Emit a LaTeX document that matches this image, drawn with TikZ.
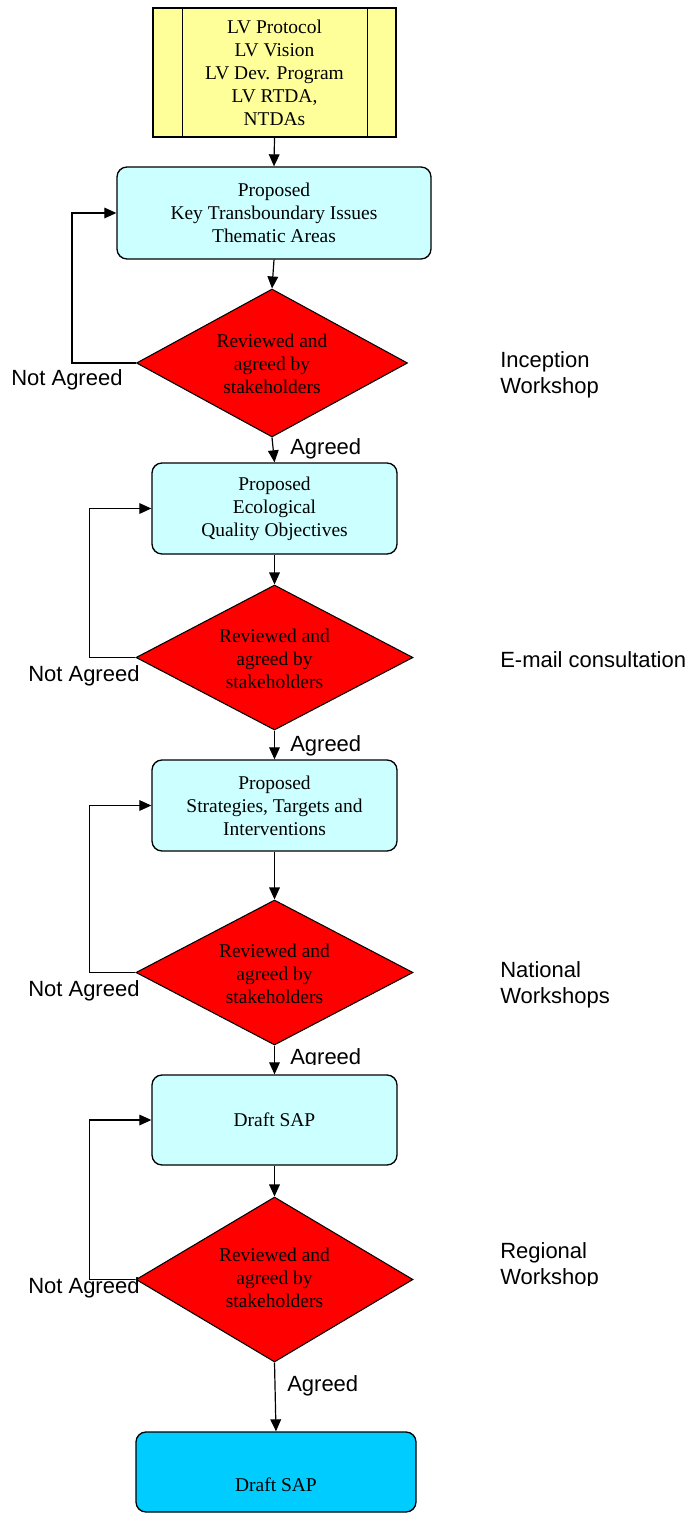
\documentclass[tikz,border=0pt]{standalone}
\usepackage{fontspec}
\setmainfont{Liberation Serif}
\newfontfamily\arialf{Liberation Sans}
\usetikzlibrary{shapes.geometric,arrows.meta}
\definecolor{lcyan}{HTML}{CCFFFF}
\definecolor{lyellow}{HTML}{FFFF99}
\definecolor{dcyan}{HTML}{00CCFF}
\tikzset{
  arr/.style={line width=0.9pt,-{Triangle[length=9pt,width=8pt]}},
  serif/.style={font=\fontsize{14.6}{17.25}\selectfont},
  proc/.style={draw,line width=1pt,rounded corners=7.5pt,fill=lcyan,align=center,serif,inner sep=0pt},
  dec/.style={draw,line width=0.8pt,diamond,aspect=1.85,fill=red,align=center,serif,inner sep=0pt},
  lab/.style={font=\arialf\fontsize{16.5}{19.5}\selectfont,align=left,inner sep=0pt,anchor=west}
}
\newcommand{\revtxt}[1]{\vbox{\kern#1\hbox{\begin{tabular}{@{}c@{}}Reviewed and\\agreed by\\stakeholders\end{tabular}}}}
\begin{document}
\begin{tikzpicture}[x=0.75pt,y=-0.75pt]
\useasboundingbox (0,0) rectangle (693,1515);
% top yellow box
\node[draw,line width=1pt,fill=lyellow,align=center,serif,inner sep=0pt,
      minimum width=182.25pt,minimum height=96.75pt] (yb) at (274.5,72.5)
  {LV Protocol\\LV Vision\\LV Dev. Program\\LV RTDA,\\NTDAs};
\draw[line width=1pt] ([xshift=22.5pt]yb.north west) -- ([xshift=22.5pt]yb.south west);
\draw[line width=1pt] ([xshift=-21.75pt]yb.north east) -- ([xshift=-21.75pt]yb.south east);

% process boxes
\node[proc,minimum width=235.5pt,minimum height=69pt] (b1) at (274,213)
  {Proposed\\Key Transboundary Issues\\Thematic Areas};
\node[proc,minimum width=183.75pt,minimum height=68.25pt] (b2) at (274.5,508.5)
  {Proposed\\Ecological\\Quality Objectives};
\node[proc,minimum width=183.75pt,minimum height=68.25pt] (b3) at (274.5,805.5)
  {Proposed\\Strategies, Targets and\\Interventions};
\node[proc,minimum width=183.75pt,minimum height=67.5pt] (b4) at (274.5,1120)
  {Draft SAP};
\node[proc,fill=dcyan,minimum width=210pt,minimum height=60pt] (fin) at (276,1472)
  {\vbox{\kern19.5pt\hbox{Draft SAP}}};

% decisions
\node[dec,minimum width=203.25pt,minimum height=111pt] (d1) at (272,363) {\revtxt{4.5pt}};
\node[dec,minimum width=207.75pt,minimum height=108.75pt] (d2) at (274.5,657.5) {\revtxt{4.5pt}};
\node[dec,minimum width=207.75pt,minimum height=108.75pt] (d3) at (274.5,972.5) {\revtxt{4.5pt}};
\node[dec,minimum width=207.75pt,minimum height=123.75pt] (d4) at (274.5,1279.5) {\revtxt{0pt}};

% main flow
\draw[arr] (yb.south) -- (b1.north);
\draw[arr] (b1.south) -- (d1.north);
\draw[arr] (d1.south) -- (b2.north);
\draw[arr] (b2.south) -- (d2.north);
\draw[arr] (d2.south) -- (b3.north);
\draw[arr] (b3.south) -- (d3.north);
\draw[arr] (d3.south) -- (b4.north);
\draw[arr] (b4.south) -- (d4.north);
\draw[arr] (d4.south) -- (fin.north);

% loops
\draw[arr] (d1.west) -- ++(-64,0) |- (b1.west);
\draw[arr] (d2.west) -- ++(-46,0) |- (b2.west);
\draw[arr] (d3.west) -- ++(-46,0) |- (b3.west);
\draw[arr] (d4.west) -- ++(-46,0) |- (b4.west);

% labels
\node[lab] (na1) at (11,380) {Not Agreed};
\node[lab] (na2) at (28,676) {Not Agreed};
\node[lab] (na3) at (28,991) {Not Agreed};
\node[lab] (na4) at (28,1288) {Not Agreed};
\node[lab] (ag1) at (290,449) {Agreed};
\node[lab] (ag2) at (290,746) {Agreed};
\begin{scope}
  \clip (280,1040) rectangle (400,1064);
  \node[lab] (ag3) at (290,1059) {Agreed};
\end{scope}
\node[lab] (ag4) at (287,1386) {Agreed};
\node[lab] (s1) at (500,375) {Inception\\Workshop};
\node[lab] (s2) at (500,660) {E-mail consultation};
\node[lab] (s3) at (500,985) {National\\Workshops};
\begin{scope}
  \clip (490,1230) rectangle (693,1285);
  \node[lab] (s4) at (500,1266) {Regional\\Workshop};
\end{scope}
\end{tikzpicture}
\end{document}
